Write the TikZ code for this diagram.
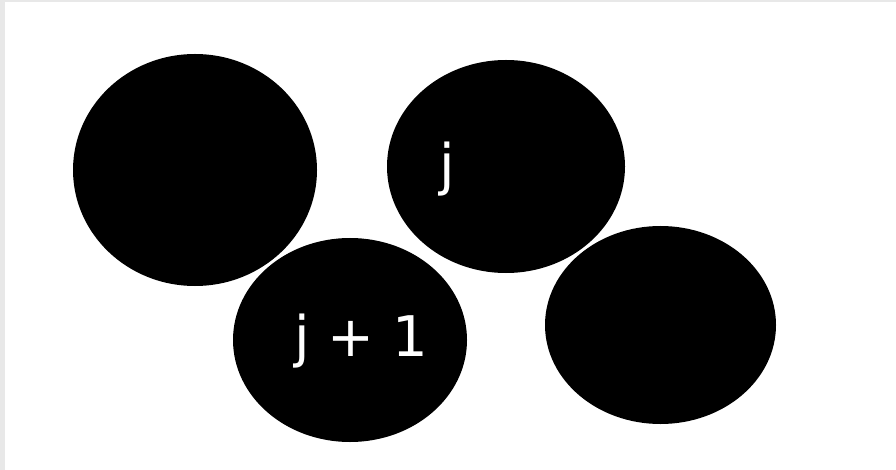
\documentclass[tikz,border=0pt]{standalone}
\usepackage{fontspec}
\setmainfont{DejaVu Sans}
\begin{document}
\begin{tikzpicture}[x=1pt,y=-1pt,
  blob/.style={fill=black,draw=none},
  lbl/.style={text=white,font=\fontsize{56}{60}\selectfont,inner sep=0pt,anchor=base}]
\useasboundingbox (0,0) rectangle (896,470);
\fill[gray!18] (0,0) rectangle (896,470);
\fill[white] (5,2) rectangle (896,470);
\fill[blob] (195,170) ellipse [x radius=122,y radius=116];
\fill[blob] (506,166.5) ellipse [x radius=119,y radius=106.5];
\fill[blob] (350,340) ellipse [x radius=117,y radius=102];
\fill[blob] (660.5,325) ellipse [x radius=115.5,y radius=99];
\node[lbl] (j) at (447,185) {j};
\node[lbl] (j1) at (361,356) {j + 1};
\end{tikzpicture}
\end{document}
